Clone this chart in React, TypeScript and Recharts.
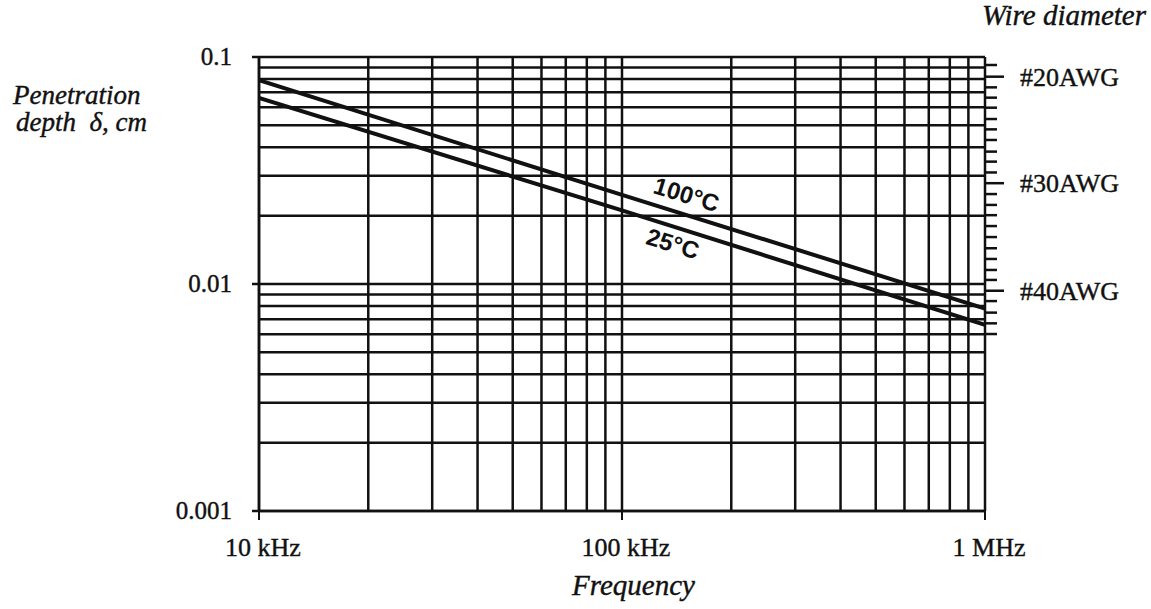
import { LineChart, Line, XAxis, YAxis, CartesianGrid } from "recharts";

// frequency (Hz) vs penetration depth (cm)
const freqs = [10000, 100000, 1000000];
const depth100C = [0.079, 0.0247, 0.0078];
const depth25C = [0.066, 0.0211, 0.0066];

const xTicks = [
  10000, 20000, 30000, 40000, 50000, 60000, 70000, 80000, 90000,
  100000, 200000, 300000, 400000, 500000, 600000, 700000, 800000, 900000,
  1000000,
];
const xMajor: Record<number, string> = {
  10000: "10 kHz",
  100000: "100 kHz",
  1000000: "1 MHz",
};

const yTicks = [
  0.001, 0.002, 0.003, 0.004, 0.005, 0.006, 0.007, 0.008, 0.009,
  0.01, 0.02, 0.03, 0.04, 0.05, 0.06, 0.07, 0.08, 0.09, 0.1,
];
const yMajor: Record<number, string> = {
  0.001: "0.001",
  0.01: "0.01",
  0.1: "0.1",
};

// wire gauge ticks on the right, placed at their diameter (cm)
const awgGauges = [
  19, 20, 21, 22, 23, 24, 25, 26, 27, 28, 29, 30, 31, 32, 33, 34, 35, 36,
  37, 38, 39, 40, 41, 42, 43, 44,
];
const awgDiameters = [
  0.0922, 0.0819, 0.0735, 0.0662, 0.0598, 0.0533, 0.048, 0.0431, 0.0383,
  0.0346, 0.031, 0.0278, 0.0249, 0.0223, 0.0201, 0.018, 0.0161, 0.01437,
  0.01289, 0.01153, 0.01042, 0.00934, 0.00841, 0.00748, 0.00671, 0.00602,
];
const awgLabeled = [20, 30, 40];

const data = freqs.map((f, i) => ({
  f,
  t100: depth100C[i],
  t25: depth25C[i],
}));

const INK = "#111";
const SERIF = "'Liberation Serif', 'Times New Roman', serif";

function XTick(props: any) {
  const { x, y, payload } = props;
  const label = xMajor[payload.value];
  if (!label) return null;
  return (
    <g>
      <line x1={x} y1={y} x2={x} y2={y + 9} stroke={INK} strokeWidth={2} />
      <text
        x={x + 4}
        y={y + 45}
        textAnchor="middle"
        fontFamily={SERIF}
        fontSize={26}
        fill={INK}
        stroke={INK}
        strokeWidth={0.4}
      >
        {label}
      </text>
    </g>
  );
}

function YTick(props: any) {
  const { x, y, payload } = props;
  const label = yMajor[payload.value];
  if (!label) return null;
  return (
    <g>
      <line x1={x - 7} y1={y} x2={x} y2={y} stroke={INK} strokeWidth={2.5} />
      <text
        x={x - 27}
        y={y + 8}
        textAnchor="end"
        fontFamily={SERIF}
        fontSize={25}
        fill={INK}
        stroke={INK}
        strokeWidth={0.4}
      >
        {label}
      </text>
    </g>
  );
}

function AwgTick(props: any) {
  const { x, y, index } = props;
  const gauge = awgGauges[index];
  const major = awgLabeled.includes(gauge);
  return (
    <g>
      <line
        x1={x}
        y1={y}
        x2={x + (major ? 19 : 12)}
        y2={y}
        stroke={INK}
        strokeWidth={2.5}
      />
      {major && (
        <text
          x={x + 35}
          y={y + 9}
          fontFamily={SERIF}
          fontSize={26}
          fill={INK}
          stroke={INK}
          strokeWidth={0.4}
        >
          #{gauge}AWG
        </text>
      )}
    </g>
  );
}

const overlayText: React.CSSProperties = {
  position: "absolute",
  fontFamily: SERIF,
  fontStyle: "italic",
  fontSize: 29,
  color: INK,
  whiteSpace: "nowrap",
  lineHeight: "29px",
  WebkitTextStroke: "0.4px #111",
};

const curveLabel: React.CSSProperties = {
  position: "absolute",
  fontFamily: "'Liberation Sans', Arial, sans-serif",
  fontWeight: "bold",
  fontSize: 24,
  color: INK,
  whiteSpace: "nowrap",
  transform: "rotate(17deg)",
  transformOrigin: "center",
};

export default function App() {
  return (
    <div
      style={{
        position: "absolute",
        left: 0,
        top: 0,
        width: 1151,
        height: 609,
        background: "#fff",
      }}
    >
      <LineChart
        width={1151}
        height={609}
        data={data}
        margin={{ top: 57, right: 26, bottom: 28, left: 179 }}
      >
        <CartesianGrid
          yAxisId="left"
          stroke={INK}
          strokeWidth={2.5}
          strokeDasharray=""
        />
        <XAxis
          dataKey="f"
          type="number"
          scale="log"
          domain={[10000, 1000000]}
          ticks={xTicks}
          interval={0}
          allowDataOverflow
          height={70}
          tickSize={0}
          tickMargin={0}
          tickLine={false}
          axisLine={{ stroke: INK, strokeWidth: 2.5 }}
          tick={<XTick />}
        />
        <YAxis
          yAxisId="left"
          type="number"
          scale="log"
          domain={[0.001, 0.1]}
          ticks={yTicks}
          interval={0}
          allowDataOverflow
          width={80}
          tickSize={0}
          tickMargin={0}
          tickLine={false}
          axisLine={{ stroke: INK, strokeWidth: 2.5 }}
          tick={<YTick />}
        />
        <YAxis
          yAxisId="awg"
          orientation="right"
          type="number"
          scale="log"
          domain={[0.001, 0.1]}
          ticks={awgDiameters}
          interval={0}
          allowDataOverflow
          width={140}
          tickSize={0}
          tickMargin={0}
          tickLine={false}
          axisLine={false}
          tick={<AwgTick />}
        />
        <Line
          yAxisId="left"
          dataKey="t100"
          type="linear"
          stroke={INK}
          strokeWidth={4}
          dot={false}
          isAnimationActive={false}
        />
        <Line
          yAxisId="left"
          dataKey="t25"
          type="linear"
          stroke={INK}
          strokeWidth={4}
          dot={false}
          isAnimationActive={false}
        />
      </LineChart>

      <div style={{ ...overlayText, left: 13, top: 82, fontSize: 27, lineHeight: "27px" }}>
        Penetration
      </div>
      <div style={{ ...overlayText, left: 16, top: 109, fontSize: 27, lineHeight: "27px" }}>
        depth&nbsp; δ, cm
      </div>
      <div style={{ ...overlayText, left: 982, top: 1 }}>Wire diameter</div>
      <div style={{ ...overlayText, left: 572, top: 571 }}>Frequency</div>

      <div style={{ ...curveLabel, left: 653, top: 181 }}>100°C</div>
      <div style={{ ...curveLabel, left: 646, top: 230 }}>25°C</div>
    </div>
  );
}
